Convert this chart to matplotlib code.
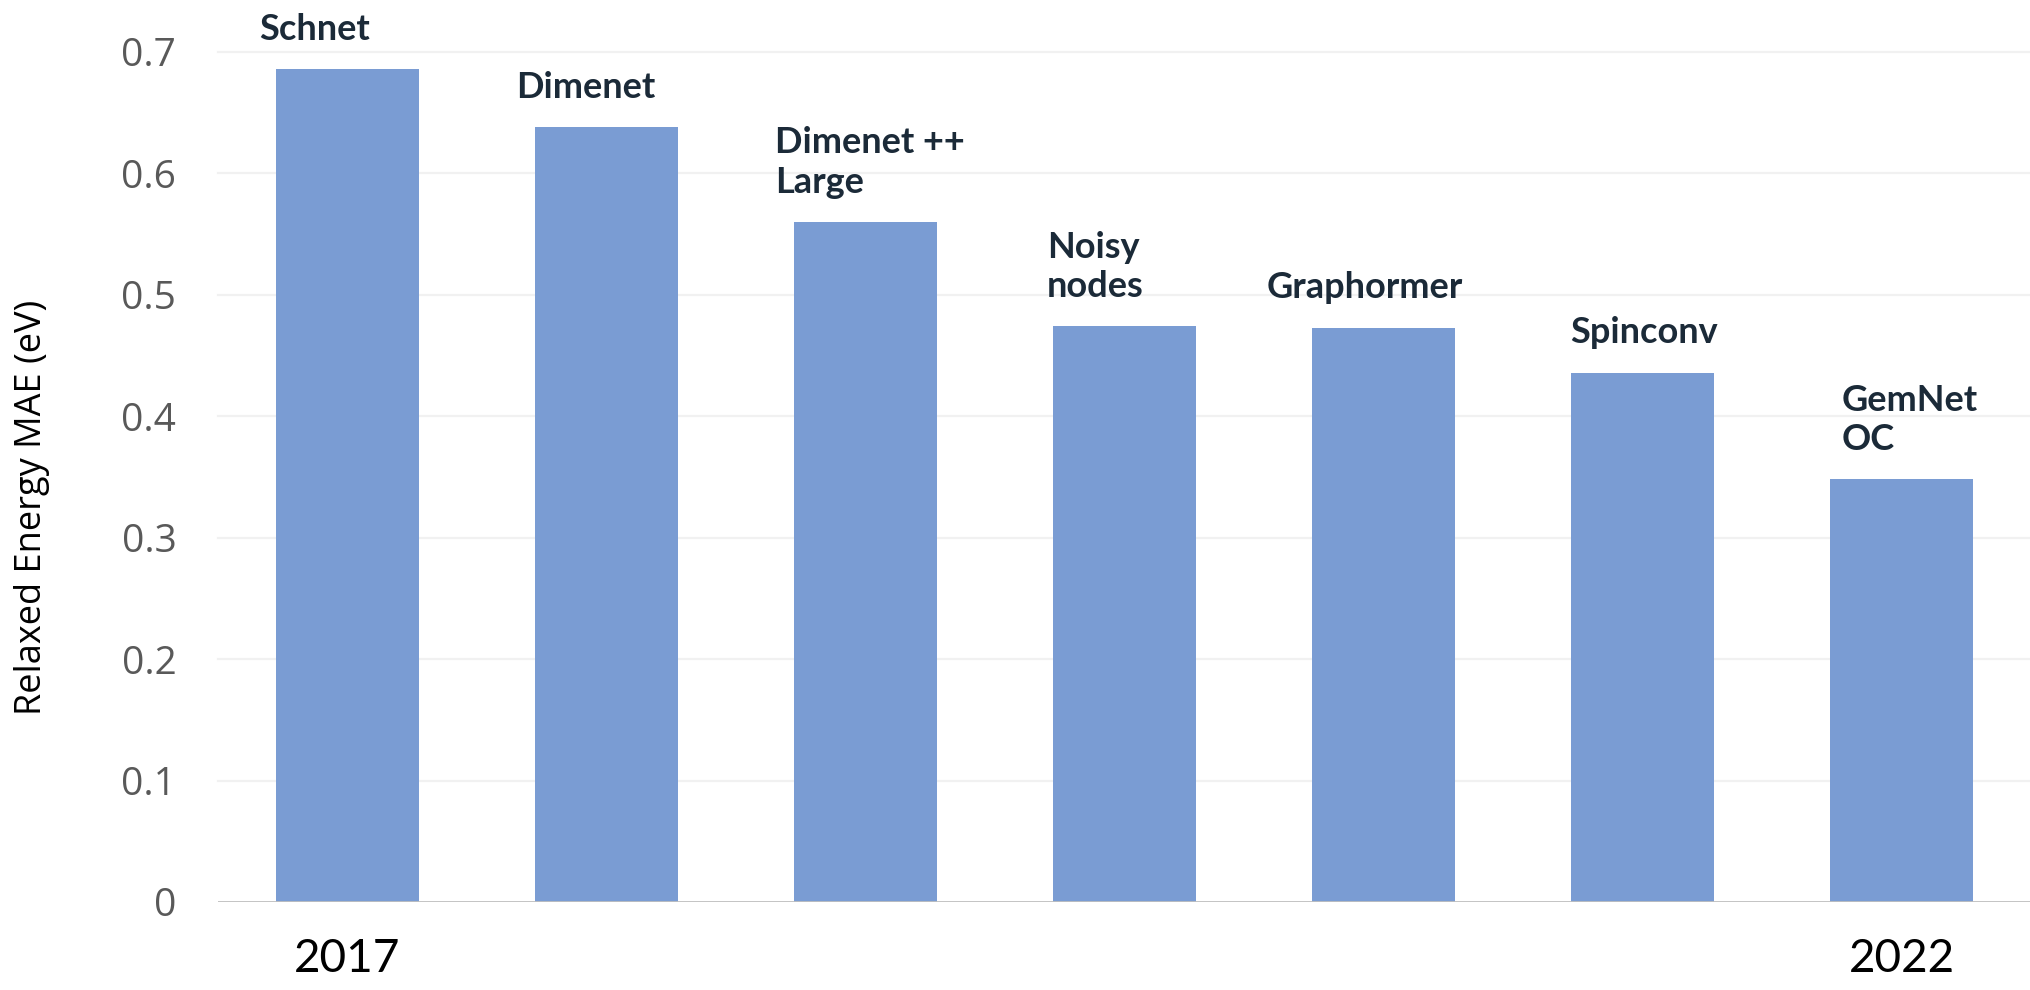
import matplotlib.pyplot as plt
import numpy as np

# model names (line breaks as they appear above the bars)
models = ['Schnet', 'Dimenet', 'Dimenet ++\nLarge', 'Noisy\nnodes',
          'Graphormer', 'Spinconv', 'GemNet\nOC']
mae = [0.686, 0.638, 0.560, 0.474, 0.473, 0.436, 0.348]
year_ticks = [0, 6]
year_labels = ['2017', '2022']
y_ticks = [0, 0.1, 0.2, 0.3, 0.4, 0.5, 0.6, 0.7]
y_tick_labels = ['0', '0.1', '0.2', '0.3', '0.4', '0.5', '0.6', '0.7']

# left edge of each name, relative to the bar centre (data units)
label_dx = [-0.34, -0.35, -0.35, -0.30, -0.45, -0.28, -0.23]

BAR_COLOR = '#7A9CD3'
NAME_COLOR = '#1B2A38'
TICK_COLOR = '#595959'

plt.rcParams['font.family'] = ['Lato', 'DejaVu Sans']

fig = plt.figure(figsize=(20.31, 9.90), dpi=100)
ax = fig.add_axes([0.1073, 0.0889, 0.8927, 0.8586])

x = np.arange(len(models))
ax.bar(x, mae, width=0.55, color=BAR_COLOR, zorder=2)

ax.set_xlim(-0.5, 6.5)
ax.set_ylim(0, 0.7)

# faint horizontal gridlines
for yv in y_ticks[1:]:
    ax.axhline(yv, color='#F1F1F1', linewidth=1.6, zorder=0, clip_on=False)
ax.axhline(0, color='#BFBFBF', linewidth=2, zorder=3)

for sp in ax.spines.values():
    sp.set_visible(False)

ax.set_yticks(y_ticks)
ax.set_yticklabels(y_tick_labels, family=['Open Sans', 'DejaVu Sans'])
ax.tick_params(axis='y', length=0, pad=30, labelsize=28, labelcolor=TICK_COLOR)

ax.set_xticks(year_ticks)
ax.set_xticklabels(year_labels)
ax.tick_params(axis='x', length=0, pad=26, labelsize=33, labelcolor='black')

# axis title sits a little below the middle of the axis
fig.text(0.0158, 0.487, 'Relaxed Energy MAE (eV)', rotation=90,
         ha='center', va='center', fontsize=26, color='black',
         family=['Open Sans', 'DejaVu Sans'])

for xi, val, name, dx in zip(x, mae, models, label_dx):
    ax.text(xi + dx, val + 0.024, name, ha='left', va='baseline',
            fontsize=26, fontweight='bold', color=NAME_COLOR,
            linespacing=1.25, clip_on=False)

fig.savefig('out.png', dpi=100, facecolor='white')
